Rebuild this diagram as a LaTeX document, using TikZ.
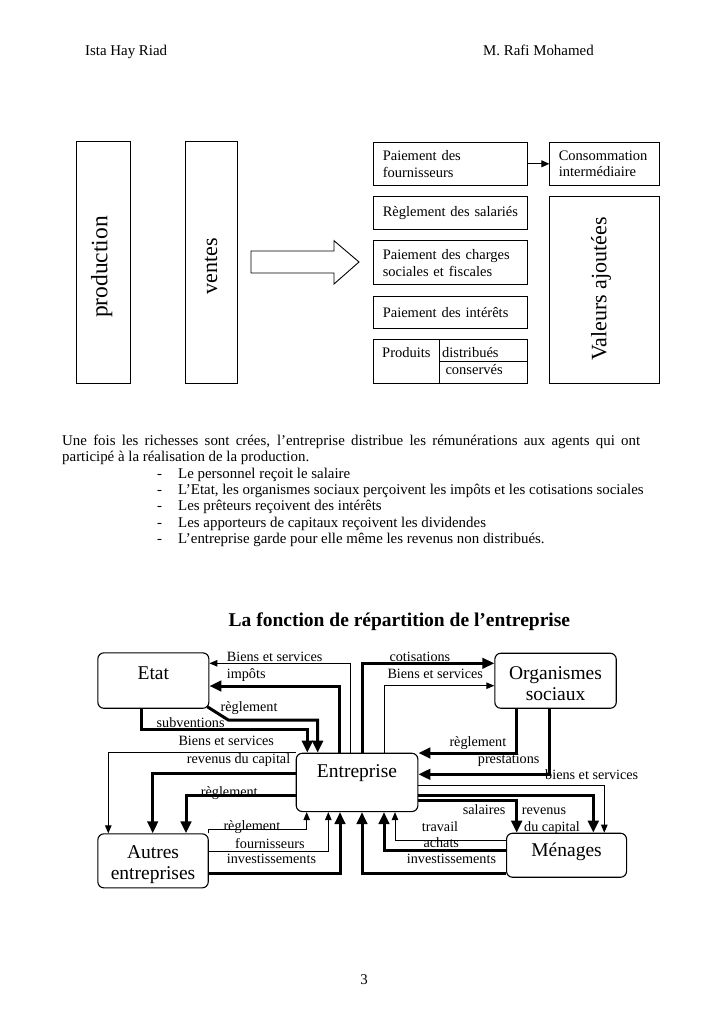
\documentclass[tikz,border=0pt]{standalone}
\usepackage{fontspec}
\setmainfont{Liberation Serif}
\usetikzlibrary{arrows.meta}
\newcommand\fsbody{\fontsize{14.9pt}{16.3pt}\selectfont}
\newcommand\fsbox{\fontsize{14.5pt}{16.7pt}\selectfont}
\newcommand\fslbl{\fontsize{14.2pt}{16pt}\selectfont}
\newcommand\fsrot{\fontsize{22pt}{26pt}\selectfont}
\newcommand\fsbig{\fontsize{19.5pt}{20.5pt}\selectfont}
\newcommand\fstitle{\fontsize{19.5pt}{22pt}\selectfont\bfseries}
\begin{document}
\begin{tikzpicture}[x=1pt,y=-1pt,
  box/.style={draw,line width=0.9pt,inner sep=0pt,anchor=north west},
  ubox/.style={box,align=left,inner xsep=9pt,text width=136pt,minimum width=154pt,font=\fsbox},
  rbox/.style={draw,line width=1.1pt,rounded corners=6pt,inner sep=0pt,anchor=north west,align=center,font=\fsbig},
  rot/.style={rotate=90,inner sep=0pt,font=\fsrot},
  lbl/.style={anchor=base west,inner sep=0pt,font=\fslbl},
  btxt/.style={anchor=base west,inner sep=0pt,font=\fsbox},
  thk/.style={line width=3pt,-{Triangle[width=10.5pt,length=12pt]}},
  thn/.style={line width=1pt,-{Triangle[width=6.5pt,length=8pt]}}]
\useasboundingbox (0,0) rectangle (728,1031);
\fill[white] (0,0) rectangle (728,1031);

% header
\node[anchor=base west,inner sep=0pt,font=\fsbody] (h1) at (85,55) {Ista Hay Riad};
\node[anchor=base west,inner sep=0pt,font=\fsbody] (h2) at (483,55) {M. Rafi Mohamed};

% upper diagram
\node[box,minimum width=54.3pt,minimum height=242pt] (prod) at (75.7,141) {};
\node[rot,font=\fontsize{23.5pt}{27pt}\selectfont] at (101.7,267) {production};
\node[box,minimum width=52pt,minimum height=242pt] (vent) at (185.3,141) {};
\node[rot] at (211,266) {ventes};
\draw[line width=0.9pt] (251,251) -- (334,251) -- (334,240.7) -- (359,262) -- (334,284) -- (334,273) -- (251,273) -- cycle;

\node[ubox,minimum height=43.3pt] (pf) at (373.3,141.7) {Paiement des\\fournisseurs};
\node[ubox,text width=92pt,minimum width=110pt,minimum height=43.3pt] (ci) at (549.3,141.7) {Consommation\\intermédiaire};
\draw[line width=0.9pt,-{Triangle[width=7pt,length=8pt]}] (pf.east) -- (ci.west);
\node[ubox,minimum height=33pt] (rs) at (373.3,196) {Règlement des salariés};
\node[ubox,minimum height=44pt] (pc) at (373.3,240.3) {Paiement des charges\\sociales et fiscales};
\node[ubox,minimum height=32.6pt] (pi) at (373.3,295.7) {Paiement des intérêts};
\node[box,minimum width=154pt,minimum height=44pt] (pr) at (373.3,339.3) {};
\draw[line width=0.9pt] (439.3,0 |- pr.north) -- (439.3,0 |- pr.south);
\draw[line width=0.9pt] (439.3,361) -- (pr.east |- 0,361);
\node[btxt] at (382,357.7) {Produits};
\node[btxt] at (442,357.7) {distribués};
\node[btxt] at (445.3,374.3) {conservés};
\node[box,minimum width=110pt,minimum height=187.3pt] (va) at (549.3,196) {};
\node[rot] at (601,289) {Valeurs ajoutées};

% paragraph
\node[anchor=north west,align=left,inner sep=0pt,font=\fsbody] (para) at (62,435) {%
\makebox[578pt][s]{Une fois les richesses sont crées, l’entreprise distribue les rémunérations aux agents qui ont}\\
participé à la réalisation de la production.\\
\hspace*{95pt}\makebox[21pt][l]{-}Le personnel reçoit le salaire\\
\hspace*{95pt}\makebox[21pt][l]{-}L’Etat, les organismes sociaux perçoivent les impôts et les cotisations sociales\\
\hspace*{95pt}\makebox[21pt][l]{-}Les prêteurs reçoivent des intérêts\\
\hspace*{95pt}\makebox[21pt][l]{-}Les apporteurs de capitaux reçoivent les dividendes\\
\hspace*{95pt}\makebox[21pt][l]{-}L’entreprise garde pour elle même les revenus non distribués.};

% title
\node[anchor=base west,inner sep=0pt,font=\fstitle] (title) at (228.5,626.5) {La fonction de répartition de l’entreprise};

% lower diagram boxes
\node[rbox,minimum width=111pt,minimum height=55.4pt,text height=27pt,text depth=28.4pt] (etat) at (97.3,652.3) {Etat};
\node[rbox,minimum width=121.4pt,minimum height=55pt] (org) at (494.3,652.7) {\rule{0pt}{18.7pt}Organismes\\sociaux};
\node[rbox,minimum width=121.6pt,minimum height=58.3pt,text height=24.6pt,text depth=33.7pt] (ent) at (295.7,752.7) {Entreprise};
\node[rbox,minimum width=110.4pt,minimum height=54pt] (autres) at (97.3,833.3) {\rule{0pt}{20.7pt}Autres\\entreprises};
\node[rbox,minimum width=120pt,minimum height=44pt,text height=23.3pt,text depth=20.7pt] (men) at (506,832.7) {Ménages};

% Entreprise <-> Etat
\draw[thn] (350,0 |- ent.north) |- (etat.east |- 0,663.3);
\draw[thk] (339.3,0 |- ent.north) |- (etat.east |- 0,686);
\draw[thk] ([shift={(-2,-2)}]etat.south east) -- (228.3,720) -| (317.7,0 |- ent.north);
\draw[thk] (141.7,0 |- etat.south) |- (307.3,729.3) -- (307.3,0 |- ent.north);
\node[lbl] at (226.7,661.5) {Biens et services};
\node[lbl] at (226.7,678.5) {impôts};
\node[lbl] at (220.5,711) {règlement};
\node[lbl] at (156.5,727.5) {subventions};

% Entreprise <-> Organismes sociaux
\draw[thk] (362.3,0 |- ent.north) |- (org.west |- 0,663.3);
\draw[thn] (384.3,0 |- ent.north) |- (org.west |- 0,685.7);
\draw[thk] (516,0 |- org.south) |- (ent.east |- 0,753);
\draw[thk] (549,0 |- org.south) |- (ent.east |- 0,774.3);
\node[lbl] at (389.3,661) {cotisations};
\node[lbl] at (387.3,678.3) {Biens et services};
\node[lbl] at (449.3,746) {règlement};
\node[lbl] at (477.7,763.3) {prestations};

% Entreprise <-> Autres entreprises
\draw[thn] (ent.north west) -| (108.3,0 |- autres.north);
\draw[thk] (ent.west |- 0,773.3) -| (152.7,0 |- autres.north);
\draw[thk] (ent.west |- 0,795.7) -| (186,0 |- autres.north);
\draw[thn] (autres.north east) -- ++(0,-4) -| (306.7,0 |- ent.south);
\draw[thn] (autres.east |- 0,851.7) -| (328.3,0 |- ent.south);
\draw[thk] (autres.east |- 0,873.3) -| (340,0 |- ent.south);
\node[lbl] at (178.3,745.5) {Biens et services};
\node[lbl] at (186.7,763.3) {revenus du capital};
\node[lbl] at (200.7,796.5) {règlement};
\node[lbl] at (223.3,830.5) {règlement};
\node[lbl] at (235,848.3) {fournisseurs};
\node[lbl] at (226.7,863.3) {investissements};

% Entreprise <-> Ménages
\draw[thn] (ent.east |- 0,785.7) -| (604.3,0 |- men.north);
\draw[thk] (ent.east |- 0,795) -| (593.3,0 |- men.north);
\draw[thk] (ent.east |- 0,800.5) -| (516.7,0 |- men.north);
\draw[thn] (men.west |- 0,840.7) -| (395,0 |- ent.south);
\draw[thk] (men.west |- 0,850.7) -| (384,0 |- ent.south);
\draw[thk] (men.west |- 0,873.3) -| (362,0 |- ent.south);
\node[lbl] at (545,779.3) {biens et services};
\node[lbl] at (462.7,814.3) {salaires};
\node[lbl] at (521.7,814.3) {revenus};
\node[lbl] at (524,831) {du capital};
\node[lbl] at (421.7,831) {travail};
\node[lbl] at (423.3,847.7) {achats};
\node[lbl] at (406.7,863.3) {investissements};

% page number
\node[anchor=base,inner sep=0pt,font=\fsbody] (pg) at (364,984) {3};
\end{tikzpicture}
\end{document}
